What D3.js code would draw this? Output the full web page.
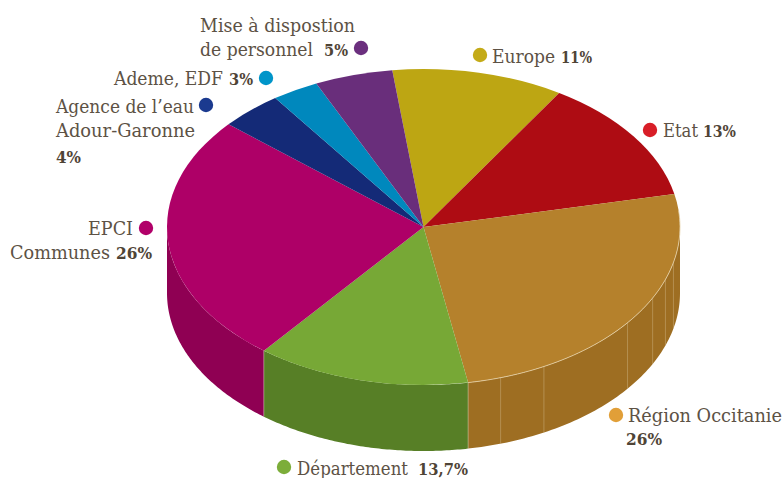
<!DOCTYPE html>
<html><head><meta charset="utf-8">
<script src="https://cdn.jsdelivr.net/npm/d3@7"></script>
<style>html,body{margin:0;padding:0;background:#fff}svg{display:block}</style>
</head><body><svg id="c" width="783" height="478"></svg>
<script>
const categories = ["Europe","Etat","Région Occitanie","Département","EPCI Communes","Agence de l’eau Adour-Garonne","Ademe, EDF","Mise à dispostion de personnel"];
const values = [11,13,26,13.7,26,4,3,5];
const topColors = ["#bda613","#ae0c13","#b5812c","#77a836","#ae0067","#142a77","#0088bd","#692e7b"];
const wallColors = ["#97850f","#8b0a0f","#9e6e22","#577f26","#8f0053","#101f5c","#006d97","#542562"];
const dotColors = ["#c4ab18","#d81e27","#e19f38","#7cad3a","#b10069","#1b3a8f","#0095c9","#6b2f7e"];
const regionSeamDegrees = [103,109.4,116.7,127.3,152,162.5];

// layout of the label text: [string, left x, right x, baseline, bold]
const labelRuns = [
 ["Mise à dispostion",200,355,32,0],["de personnel",200,313,56,0],["5%",324,348,56,1],
 ["Ademe, EDF",114,223,85,0],["3%",229,253,85,1],
 ["Agence de l’eau",56,194,113,0],["Adour-Garonne",56,195,137,0],["4%",56,81,163,1],
 ["EPCI",88,133,235,0],["Communes",10,110,259,0],["26%",116,152,259,1],
 ["Europe",492,555,63,0],["11%",561,592,63,1],
 ["Etat",663,698,137,0],["13%",703,736,137,1],
 ["Région Occitanie",628,782,422,0],["26%",626,662,445,1],
 ["Département",297,408,475,0],["13,7%",418,468,475,1]
];
const dotLayout = [[480,55],[650,130],[616,415],[284,467],[146,228],[206,105],[266,78],[361,48]];

const cx=423.5, cy=227, rx=256.5, ry=158, depth=66;
const rad=d=>d*Math.PI/180;
const svg=d3.select("#c");
const pie=d3.pie().sort(null).startAngle(rad(-7)).endAngle(rad(353));
const arcs=pie(values);
const px=a=>cx+rx*Math.sin(a), py=a=>cy-ry*Math.cos(a);

// walls: only the front half of the rim (90deg to 270deg) is visible
const wallArea=d3.area().x(a=>px(a)).y0(a=>py(a)).y1(a=>py(a)+depth);
arcs.forEach((d,i)=>{
  const a0=Math.max(d.startAngle,rad(90)), a1=Math.min(d.endAngle,rad(270));
  if(a1<=a0) return;
  svg.append("path").attr("d",wallArea(d3.range(0,81).map(k=>a0+(a1-a0)*k/80))).attr("fill",wallColors[i]);
});
// wall seams
svg.selectAll("line.seam").data(regionSeamDegrees).join("line").attr("class","seam")
  .attr("x1",d=>px(rad(d))).attr("x2",d=>px(rad(d)))
  .attr("y1",d=>py(rad(d))).attr("y2",d=>py(rad(d))+depth)
  .attr("stroke","#d2b98c").attr("stroke-opacity",.55).attr("stroke-width",.8);
[arcs[2].endAngle,arcs[3].endAngle].forEach(a=>{
  svg.append("line").attr("x1",px(a)).attr("x2",px(a)).attr("y1",py(a)).attr("y2",py(a)+depth)
   .attr("stroke","#d9dcc0").attr("stroke-opacity",.55).attr("stroke-width",.8);
});

// top face: a d3 arc flattened into an ellipse
const arc=d3.arc().innerRadius(0).outerRadius(rx);
const topFace=svg.append("g").attr("transform",`translate(${cx},${cy}) scale(1,${ry/rx})`);
topFace.selectAll("path").data(arcs).join("path").attr("d",arc).attr("fill",(d,i)=>topColors[i]);

// pale rim on the Région slice
svg.append("path").attr("fill","none").attr("stroke","#e6d2a8").attr("stroke-width",.8)
  .attr("d",d3.line().x(px).y(py)(d3.range(0,61).map(k=>rad(84)+(arcs[2].endAngle-rad(84))*k/60)));

// dots and labels
svg.selectAll("circle").data(dotLayout).join("circle")
  .attr("cx",d=>d[0]).attr("cy",d=>d[1]).attr("r",7.2).attr("fill",(d,i)=>dotColors[i]);
svg.selectAll("text").data(labelRuns).join("text")
  .attr("x",d=>d[1]).attr("y",d=>d[3])
  .attr("textLength",d=>d[2]-d[1]).attr("lengthAdjust","spacingAndGlyphs")
  .attr("font-family","'DejaVu Serif',serif")
  .attr("font-size",d=>d[4]?16:18)
  .attr("font-weight",d=>d[4]?700:400)
  .attr("fill",d=>d[4]?"#4f4436":"#5d5245")
  .text(d=>d[0]);
</script></body></html>
